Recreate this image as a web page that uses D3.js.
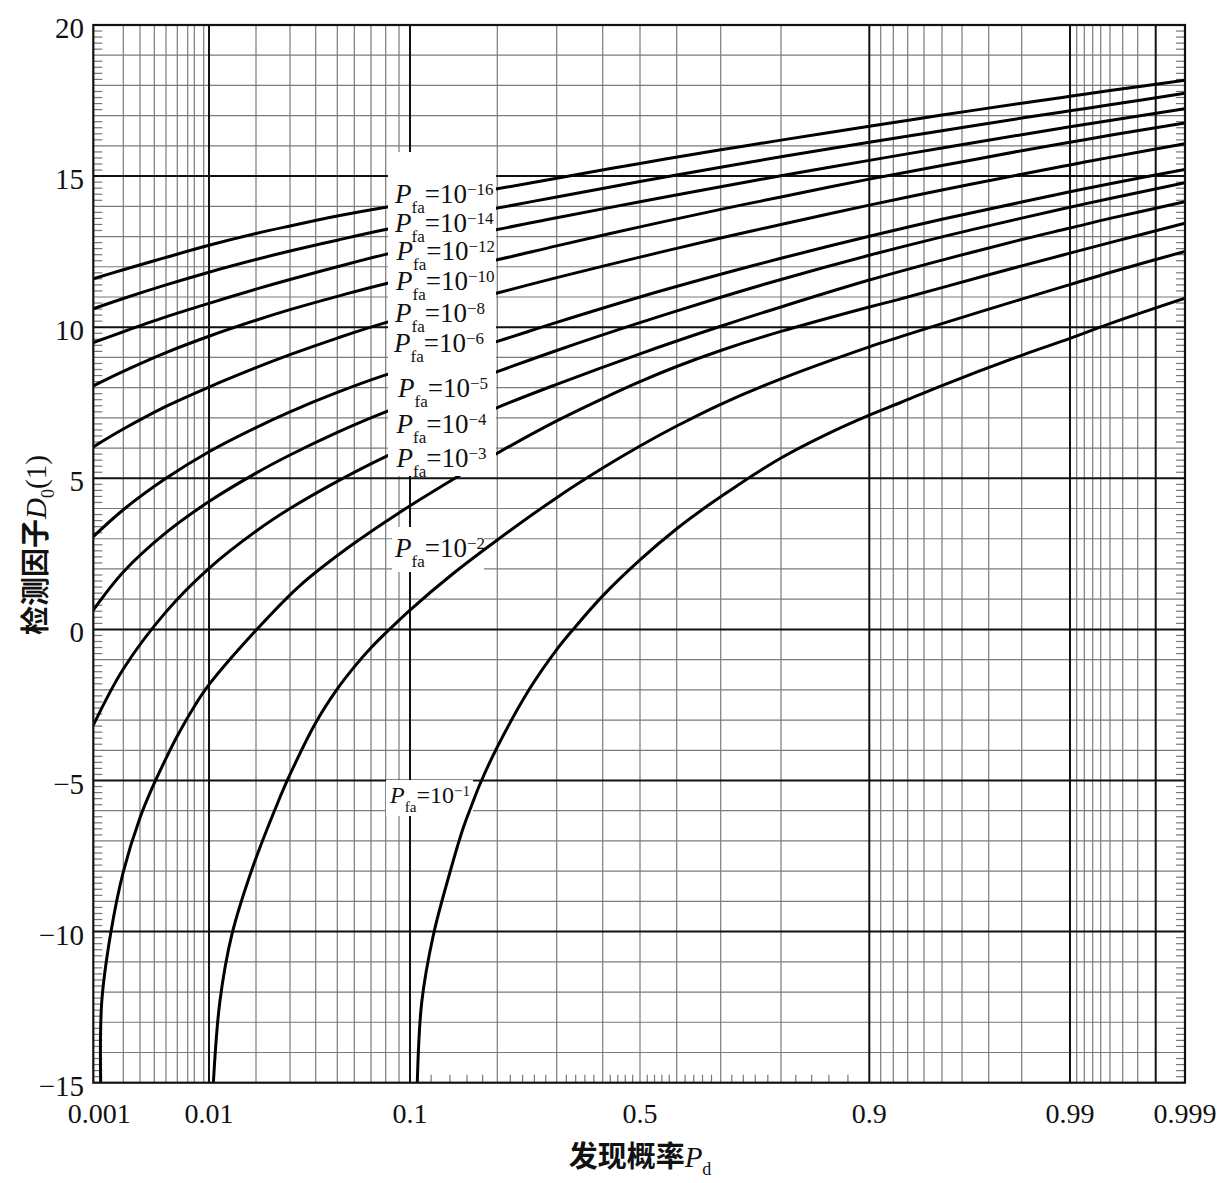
<!DOCTYPE html>
<html><head><meta charset="utf-8">
<script src="https://cdn.jsdelivr.net/npm/d3@7"></script>
<style>
body{margin:0;background:#fff;}
svg{display:block;}
text{font-family:"Liberation Serif","Times New Roman",serif;fill:#111;}
.cjk{font-family:"Noto Sans CJK SC",sans-serif;font-weight:700;}
</style></head><body>
<svg id="chart" width="1232" height="1183"></svg>
<script>
// ---------------- DATA ----------------
const pdTickValues = [0.001, 0.01, 0.1, 0.5, 0.9, 0.99, 0.999];
const pdTickLabels = ["0.001", "0.01", "0.1", "0.5", "0.9", "0.99", "0.999"];
const pdGridLines = [0.002,0.003,0.004,0.005,0.006,0.007,0.008,0.009,0.01,
  0.02,0.03,0.04,0.05,0.06,0.07,0.08,0.09,0.1,0.2,0.3,0.4,0.5,0.6,0.7,0.8,0.9,
  0.91,0.92,0.93,0.94,0.95,0.96,0.97,0.98,0.99,0.991,0.992,0.993,0.994,0.995,0.996,0.997,0.998];
const pdGridBold = [0.01, 0.1, 0.9, 0.99, 0.998];
const pdMinorTicks = [0.12,0.14,0.16,0.18,0.22,0.24,0.26,0.28,0.32,0.34,0.36,0.38,0.42,0.44,0.46,0.48,
  0.52,0.54,0.56,0.58,0.62,0.64,0.66,0.68,0.72,0.74,0.76,0.78,0.82,0.84,0.86,0.88];
const d0TickValues = [20, 15, 10, 5, 0, -5, -10, -15];
const d0TickLabels = ["20", "15", "10", "5", "0", "\u22125", "\u221210", "\u221215"];

// Pd sampling points shared by the upper eight curves
const pdTop = [0.001,0.002,0.005,0.01,0.02,0.03,0.05,0.08,0.2,0.3,0.5,0.7,0.8,0.9,0.95,0.98,0.99,0.995,0.999];
const d0Pfa16 = [11.6,11.9,12.31,12.71,13.1,13.35,13.68,13.97,14.58,14.93,15.42,15.87,16.19,16.65,17.02,17.41,17.64,17.83,18.17];
const d0Pfa14 = [10.61,10.95,11.4,11.82,12.24,12.52,12.88,13.23,13.94,14.31,14.82,15.29,15.64,16.12,16.5,16.92,17.16,17.36,17.74];
const d0Pfa12 = [9.49,9.85,10.34,10.79,11.26,11.58,12.0,12.41,13.23,13.62,14.15,14.65,15.01,15.52,15.93,16.37,16.63,16.84,17.23];
const d0Pfa10 = [8.06,8.54,9.16,9.7,10.23,10.58,11.02,11.44,12.23,12.69,13.32,13.9,14.31,14.9,15.35,15.84,16.12,16.35,16.76];
const d0Pfa8  = [6.04,6.63,7.38,8.02,8.66,9.09,9.64,10.15,11.13,11.64,12.32,12.95,13.4,14.04,14.54,15.06,15.37,15.62,16.07];
const d0Pfa6  = [3.07,3.96,5.0,5.88,6.68,7.2,7.84,8.42,9.53,10.16,11.0,11.75,12.28,13.01,13.57,14.14,14.48,14.75,15.22];
const d0Pfa5  = [0.64,1.9,3.2,4.23,5.17,5.77,6.52,7.2,8.53,9.23,10.15,10.99,11.58,12.38,12.99,13.61,13.97,14.26,14.78];
const d0Pfa4  = [-3.17,-1.31,0.58,2.02,3.25,4.0,4.9,5.72,7.34,8.11,9.12,10.03,10.67,11.56,12.22,12.9,13.28,13.6,14.15];

const pdPfa3 = [0.00119,0.00122,0.0015,0.002,0.003,0.004,0.005,0.006,0.008,0.01,0.02,0.0336,0.0573,0.0909,0.1437,0.2,0.3,0.4,0.5,0.6,0.7,0.8,0.9,0.9248,0.95,0.98,0.99,0.995,0.999];
const d0Pfa3 = [-15,-12.33,-10.07,-8.02,-6.23,-5.09,-4.27,-3.53,-2.55,-1.83,-0.03,1.45,2.75,3.88,4.97,5.83,6.9,7.64,8.2,8.7,9.23,9.86,10.67,10.93,11.31,12.03,12.45,12.8,13.44];

const pdPfa2 = [0.0107,0.0118,0.0141,0.0193,0.0261,0.03,0.04,0.05,0.06,0.07,0.08,0.1,0.1437,0.2,0.3,0.4,0.5,0.6,0.7,0.8,0.9,0.9248,0.95,0.98,0.99,0.995,0.999];
const d0Pfa2 = [-15,-12.33,-10.12,-7.8,-5.71,-4.8,-3.09,-1.97,-1.24,-0.61,-0.12,0.64,1.85,2.96,4.36,5.34,6.07,6.73,7.45,8.29,9.35,9.68,10.12,10.93,11.41,11.81,12.51];

const pdPfa1 = [0.1066,0.1108,0.1222,0.1402,0.1557,0.1661,0.1768,0.2,0.2523,0.3,0.334,0.4,0.5,0.6,0.676,0.728,0.8,0.8614,0.9,0.9248,0.95,0.98,0.99,0.995,0.999];
const d0Pfa1 = [-15,-12.33,-10.12,-8.02,-6.55,-5.8,-5.1,-3.89,-1.95,-0.67,-0.01,1.11,2.3,3.33,4.14,4.74,5.67,6.51,7.09,7.5,8.07,9.07,9.63,10.12,10.96];

const pfaExponents = [-16,-14,-12,-10,-8,-6,-5,-4,-3,-2,-1];

// ---------------- LAYOUT ----------------
const W = 1232, H = 1183;
const PL = 93.3, PR = 1185, PT = 25, PB = 1082.7;
// probability paper: pixel stops of the printed grid
const paperPd = [0.001,0.002,0.003,0.004,0.005,0.006,0.007,0.008,0.009,0.01,0.02,0.03,0.04,0.05,0.06,0.07,0.08,0.09,0.1,
  0.2,0.3,0.4,0.5,0.6,0.7,0.8,0.9,0.91,0.92,0.93,0.94,0.95,0.96,0.97,0.98,0.99,0.991,0.992,0.993,0.994,0.995,0.996,0.997,0.998,0.999];
const paperPx = [PL,123.3,140,154.3,166,177.3,187.7,194.3,203.7,209,256,290,315.7,337.3,354.3,371,385.7,399,410,
  497.3,556.7,602.7,640,676.7,720.7,781,869.3,880.7,893.3,907.7,924,942,962,988.7,1021.7,1070,1076.7,1084.3,1092.7,1100.7,1110,1122.7,1137.7,1155.7,PR];

function probit(p){
  const a=[-3.969683028665376e+01,2.209460984245205e+02,-2.759285104469687e+02,1.383577518672690e+02,-3.066479806614716e+01,2.506628277459239e+00];
  const b=[-5.447609879822406e+01,1.615858368580409e+02,-1.556989798598866e+02,6.680131188771972e+01,-1.328068155288572e+01];
  const c=[-7.784894002430293e-03,-3.223964580411365e-01,-2.400758277161838e+00,-2.549732539343734e+00,4.374664141464968e+00,2.938163982698783e+00];
  const d=[7.784695709041462e-03,3.224671290700398e-01,2.445134137142996e+00,3.754408661907416e+00];
  const pl=0.02425;
  let q,r;
  if(p<pl){q=Math.sqrt(-2*Math.log(p));return (((((c[0]*q+c[1])*q+c[2])*q+c[3])*q+c[4])*q+c[5])/((((d[0]*q+d[1])*q+d[2])*q+d[3])*q+1);}
  if(p<=1-pl){q=p-0.5;r=q*q;return (((((a[0]*r+a[1])*r+a[2])*r+a[3])*r+a[4])*r+a[5])*q/(((((b[0]*r+b[1])*r+b[2])*r+b[3])*r+b[4])*r+1);}
  q=Math.sqrt(-2*Math.log(1-p));return -(((((c[0]*q+c[1])*q+c[2])*q+c[3])*q+c[4])*q+c[5])/((((d[0]*q+d[1])*q+d[2])*q+d[3])*q+1);
}
const zScale = d3.scaleLinear().domain(paperPd.map(probit)).range(paperPx);
const xS = p => zScale(probit(p));
const yS = d3.scaleLinear().domain([-15, 20]).range([PB, PT]);

const svg = d3.select("#chart");
svg.append("rect").attr("width", W).attr("height", H).attr("fill", "#fff");
svg.append("defs").append("clipPath").attr("id","plotClip")
  .append("rect").attr("x",PL).attr("y",PT).attr("width",PR-PL).attr("height",PB-PT);

const grid = svg.append("g");
const hAll = d3.range(-14, 20);
grid.selectAll("line.hthin").data(hAll.filter(v => v % 5 !== 0)).join("line")
  .attr("x1", PL).attr("x2", PR).attr("y1", d => yS(d)).attr("y2", d => yS(d))
  .attr("stroke", "#7a7a7a").attr("stroke-width", 1.2);
grid.selectAll("line.vthin").data(pdGridLines.filter(p => !pdGridBold.includes(p))).join("line")
  .attr("x1", d => xS(d)).attr("x2", d => xS(d)).attr("y1", PT).attr("y2", PB)
  .attr("stroke", "#7a7a7a").attr("stroke-width", 1.2);
grid.selectAll("line.hbold").data(hAll.filter(v => v % 5 === 0)).join("line")
  .attr("x1", PL).attr("x2", PR).attr("y1", d => yS(d)).attr("y2", d => yS(d))
  .attr("stroke", "#111").attr("stroke-width", 2);
grid.selectAll("line.vbold").data(pdGridBold).join("line")
  .attr("x1", d => xS(d)).attr("x2", d => xS(d)).attr("y1", PT).attr("y2", PB)
  .attr("stroke", "#111").attr("stroke-width", 2);

const yMinor = d3.range(-15, 20.001, 0.2).map(v => Math.round(v*10)/10).filter(v => Math.abs(v - Math.round(v)) > 0.01);
const ticks = svg.append("g").attr("stroke", "#777").attr("stroke-width", 1.2);
ticks.selectAll("line.l").data(yMinor).join("line")
  .attr("x1", PL).attr("x2", PL + 9).attr("y1", d => yS(d)).attr("y2", d => yS(d));
ticks.selectAll("line.r").data(yMinor).join("line")
  .attr("x1", PR - 9).attr("x2", PR).attr("y1", d => yS(d)).attr("y2", d => yS(d));
ticks.selectAll("line.b").data(pdMinorTicks).join("line")
  .attr("x1", d => xS(d)).attr("x2", d => xS(d)).attr("y1", PB).attr("y2", PB - 8);

// small label backgrounds
svg.append("rect").attr("x", 392).attr("y", 527).attr("width", 92).attr("height", 45).attr("fill", "#fff");
svg.append("rect").attr("x", 386).attr("y", 780).attr("width", 87).attr("height", 36).attr("fill", "#fff");

const series = [
  {exp:-16, pd: pdTop, d0: d0Pfa16}, {exp:-14, pd: pdTop, d0: d0Pfa14},
  {exp:-12, pd: pdTop, d0: d0Pfa12}, {exp:-10, pd: pdTop, d0: d0Pfa10},
  {exp:-8, pd: pdTop, d0: d0Pfa8}, {exp:-6, pd: pdTop, d0: d0Pfa6},
  {exp:-5, pd: pdTop, d0: d0Pfa5}, {exp:-4, pd: pdTop, d0: d0Pfa4},
  {exp:-3, pd: pdPfa3, d0: d0Pfa3}, {exp:-2, pd: pdPfa2, d0: d0Pfa2},
  {exp:-1, pd: pdPfa1, d0: d0Pfa1}
];
const lineGen = d3.line().x(d => xS(d[0])).y(d => yS(d[1])).curve(d3.curveCatmullRom.alpha(0.5));
svg.append("g").attr("clip-path", "url(#plotClip)")
  .selectAll("path").data(series).join("path")
  .attr("d", s => lineGen(s.pd.map((p, i) => [p, s.d0[i]])))
  .attr("fill", "none").attr("stroke", "#000").attr("stroke-width", 3).attr("stroke-linejoin","round");

// big label background
svg.append("rect").attr("x", 388).attr("y", 152).attr("width", 108).attr("height", 324).attr("fill", "#fff");

svg.append("rect").attr("x", PL).attr("y", PT).attr("width", PR-PL).attr("height", PB-PT)
  .attr("fill", "none").attr("stroke", "#111").attr("stroke-width", 2.2);

svg.append("g").selectAll("text").data(d0TickValues).join("text")
  .attr("x", 84).attr("y", d => yS(d) + 13).attr("text-anchor", "end")
  .style("font-size", "29px").text((d, i) => d0TickLabels[i]);
svg.append("g").selectAll("text").data(pdTickValues).join("text")
  .attr("x", (d, i) => xS(d) + (i === 0 ? 6 : 0)).attr("y", 1123).attr("text-anchor", "middle")
  .style("font-size", "28px").text((d, i) => pdTickLabels[i]);

const xt = svg.append("text").attr("x", 640).attr("y", 1167).attr("text-anchor", "middle").style("font-size", "29px");
xt.append("tspan").attr("class", "cjk").text("发现概率");
xt.append("tspan").style("font-style", "italic").text("P");
xt.append("tspan").attr("dy", 8).style("font-size", "18px").text("d");

const yt = svg.append("text").attr("transform", "translate(46,545) rotate(-90)").attr("text-anchor", "middle").style("font-size", "29px");
yt.append("tspan").attr("class", "cjk").text("检测因子");
yt.append("tspan").style("font-style", "italic").text("D");
yt.append("tspan").attr("dy", 8).style("font-size", "18px").text("0");
yt.append("tspan").attr("dy", -8).text("(1)");

const labelSpots = [
  [395, 203.3, 27], [395, 231.7, 27], [396.5, 260, 27], [396, 290, 27], [395, 321.7, 27],
  [394, 351.7, 27], [398, 396.7, 27], [396.5, 433.3, 27], [396.5, 466.7, 27], [395, 556.7, 27], [390, 803.3, 24]
];
const lab = svg.append("g");
pfaExponents.forEach((e, i) => {
  const [lx, ly, fs] = labelSpots[i];
  const t = lab.append("text").attr("x", lx).attr("y", ly).style("font-size", fs + "px");
  t.append("tspan").style("font-style", "italic").text("P");
  t.append("tspan").attr("dy", fs * 0.37).style("font-size", (fs * 0.63) + "px").text("fa");
  t.append("tspan").attr("dy", -fs * 0.37).text("=10");
  t.append("tspan").attr("dy", -fs * 0.3).style("font-size", (fs * 0.63) + "px").text("\u2212" + Math.abs(e));
});
</script>
</body></html>
